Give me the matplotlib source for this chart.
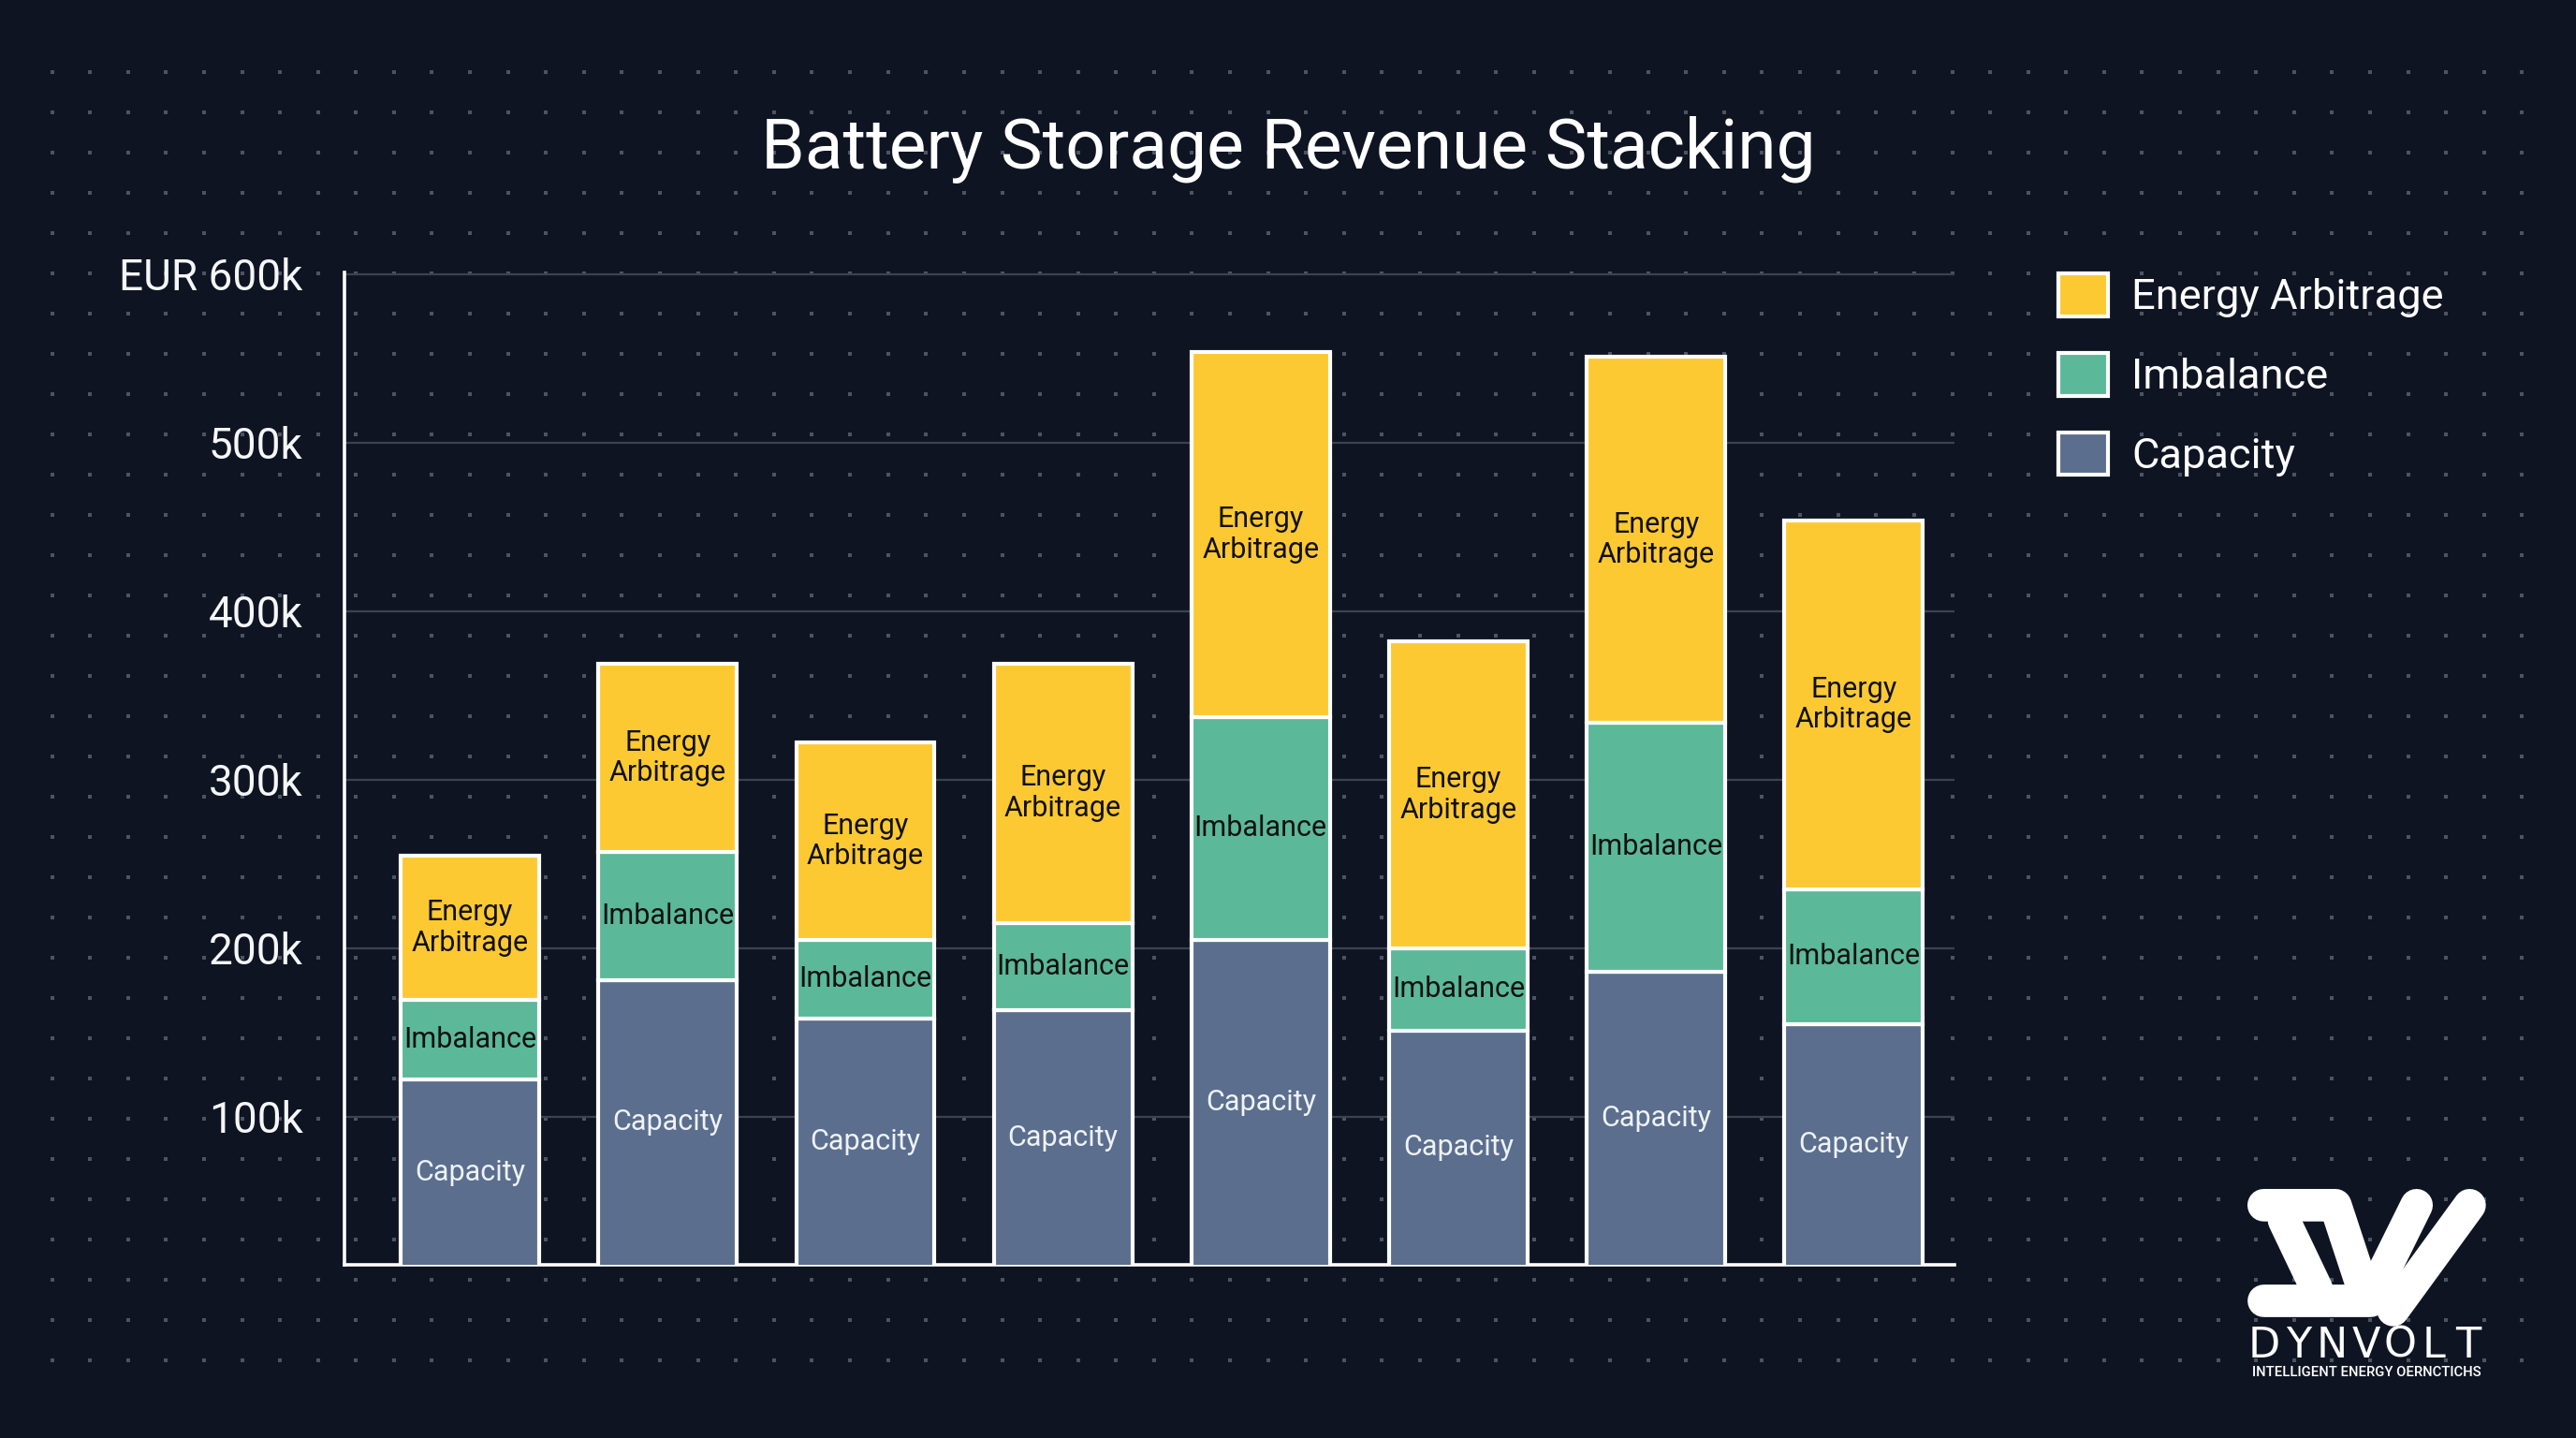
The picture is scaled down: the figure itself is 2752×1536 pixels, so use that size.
import numpy as np
import matplotlib
matplotlib.use("Agg")
import matplotlib.pyplot as plt

plt.rcParams['font.family'] = ['Roboto', 'DejaVu Sans']

# data (EUR thousands)
sites = ['1', '2', '3', '4', '5', '6', '7', '8']
capacity = [122, 181, 158, 163, 205, 151, 186, 155]
imbalance = [47, 76, 47, 52, 132, 49, 148, 80]
arbitrage = [86, 112, 117, 154, 217, 182, 217, 219]
yticks = [100, 200, 300, 400, 500, 600]
ytick_labels = ['100k', '200k', '300k', '400k', '500k', 'EUR 600k']

BG = '#0e1422'
C_CAP = '#5b6e8d'
C_IMB = '#5bb898'
C_EA = '#fdc933'
W, H = 2752, 1536

fig = plt.figure(figsize=(13.76, 7.68), dpi=200, facecolor=BG)

# background layer: dot pattern + logo, in pixel coords
bg = fig.add_axes([0, 0, 1, 1], zorder=0)
bg.set_xlim(0, W)
bg.set_ylim(H, 0)
bg.axis('off')
bg.set_facecolor(BG)
gx, gy = np.meshgrid(np.arange(55.5, 2720, 40.6), np.arange(77, 1475, 43.0))
bg.scatter(gx.ravel(), gy.ravel(), s=2.2, marker='s', color='#4c5464', linewidths=0)

# logo (zoom-crop coordinates -> pixels)
def lp(pts):
    return [2380 + x / 3 for x, y in pts], [1250 + y / 3 for x, y in pts]

strokes = [
    [(115, 112), (345, 112), (435, 385)],
    [(180, 160), (285, 380)],
    [(115, 418), (455, 418)],
    [(605, 112), (460, 405)],
    [(775, 112), (530, 448)],
]
for s in strokes:
    xs, ys = lp(s)
    bg.plot(xs, ys, color='white', lw=12.5, solid_capstyle='round',
            solid_joinstyle='round')
letters = 'DYNVOLT'
for i, ch in enumerate(letters):
    bg.text(2419 + i * 36.3, 1437, ch, color='white', fontsize=16,
            family='DejaVu Sans', ha='center', va='center')
bg.text(2528, 1466, 'INTELLIGENT ENERGY OERNCTICHS', color='white',
        fontsize=5.3, ha='center', va='center', fontweight='medium')

# main chart
ax = fig.add_axes([368 / W, 1 - 1351 / H, (2088 - 368) / W, (1351 - 291) / H], zorder=1)
ax.set_facecolor('none')
x = np.arange(len(sites))
bw = 0.70
ylo = 12
ax.bar(x, capacity, bw, color=C_CAP, edgecolor='white', lw=1.5, label='Capacity', zorder=3)
b2 = np.array(capacity)
ax.bar(x, imbalance, bw, bottom=b2, color=C_IMB, edgecolor='white', lw=1.5, label='Imbalance', zorder=3)
b3 = b2 + np.array(imbalance)
ax.bar(x, arbitrage, bw, bottom=b3, color=C_EA, edgecolor='white', lw=1.5, label='Energy Arbitrage', zorder=3)

for i in range(len(sites)):
    ax.text(x[i], (ylo + capacity[i]) / 2, 'Capacity', ha='center', va='center',
            color='#eef2f7', fontsize=11, zorder=4)
    ax.text(x[i], b2[i] + imbalance[i] / 2, 'Imbalance', ha='center', va='center',
            color='#111111', fontsize=11, zorder=4)
    ax.text(x[i], b3[i] + arbitrage[i] / 2, 'Energy\nArbitrage', ha='center', va='center',
            color='#111111', fontsize=11, linespacing=1.15, zorder=4)

ax.set_xlim(-0.635, 7.51)
ax.set_ylim(ylo, 601)
ax.set_yticks(yticks)
ax.set_yticklabels(ytick_labels)
ax.set_xticks([])
ax.tick_params(axis='y', length=0, pad=16, labelsize=16.5, labelcolor='#f4f6f8')
for t in ax.get_yticklabels():
    t.set_y(t.get_position()[1])
ax.yaxis.grid(True, color='#3b4250', lw=0.8)
ax.set_axisbelow(True)
for side in ['top', 'right']:
    ax.spines[side].set_visible(False)
for side in ['left', 'bottom']:
    ax.spines[side].set_color('white')
    ax.spines[side].set_linewidth(1.3)

h, l = ax.get_legend_handles_labels()
fig.legend(h[::-1], l[::-1], loc='upper left', bbox_to_anchor=(2199 / W, 1 - 292 / H),
           frameon=False, fontsize=16.3, labelcolor='white', handlelength=1.18,
           handleheight=1.18, handletextpad=0.55, labelspacing=0.83,
           borderpad=0, borderaxespad=0)

fig.text(0.5, 1 - 160 / H, 'Battery Storage Revenue Stacking', ha='center', va='center',
         color='white', fontsize=27)

fig.savefig('out.png', dpi=200, facecolor=BG)
